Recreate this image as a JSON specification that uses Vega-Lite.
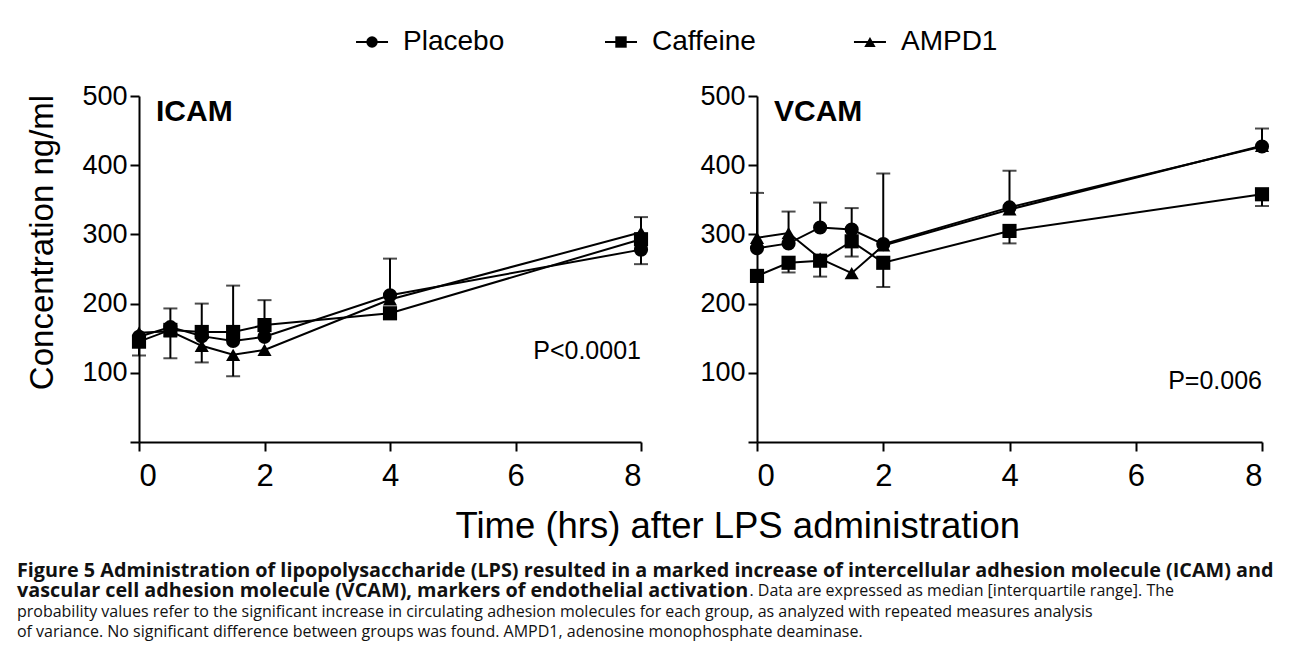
{
  "$schema": "https://vega.github.io/schema/vega-lite/v6.json",
  "padding": {"left": 16, "top": 28, "right": 5, "bottom": 5},
  "background": "white",
  "datasets": {
    "groups": [
      {"group": "Placebo"},
      {"group": "Caffeine"},
      {"group": "AMPD1"}
    ],
    "points": [
      {"panel": "ICAM", "group": "Placebo", "time": 0, "value": 152},
      {"panel": "ICAM", "group": "Placebo", "time": 0.5, "value": 166},
      {"panel": "ICAM", "group": "Placebo", "time": 1, "value": 153},
      {"panel": "ICAM", "group": "Placebo", "time": 1.5, "value": 146},
      {"panel": "ICAM", "group": "Placebo", "time": 2, "value": 152},
      {"panel": "ICAM", "group": "Placebo", "time": 4, "value": 212},
      {"panel": "ICAM", "group": "Placebo", "time": 8, "value": 278},
      {"panel": "ICAM", "group": "Caffeine", "time": 0, "value": 145},
      {"panel": "ICAM", "group": "Caffeine", "time": 0.5, "value": 162},
      {"panel": "ICAM", "group": "Caffeine", "time": 1, "value": 159},
      {"panel": "ICAM", "group": "Caffeine", "time": 1.5, "value": 159},
      {"panel": "ICAM", "group": "Caffeine", "time": 2, "value": 169},
      {"panel": "ICAM", "group": "Caffeine", "time": 4, "value": 186},
      {"panel": "ICAM", "group": "Caffeine", "time": 8, "value": 293},
      {"panel": "ICAM", "group": "AMPD1", "time": 0, "value": 158},
      {"panel": "ICAM", "group": "AMPD1", "time": 0.5, "value": 160},
      {"panel": "ICAM", "group": "AMPD1", "time": 1, "value": 139},
      {"panel": "ICAM", "group": "AMPD1", "time": 1.5, "value": 126},
      {"panel": "ICAM", "group": "AMPD1", "time": 2, "value": 133},
      {"panel": "ICAM", "group": "AMPD1", "time": 4, "value": 206},
      {"panel": "ICAM", "group": "AMPD1", "time": 8, "value": 303},
      {"panel": "VCAM", "group": "Placebo", "time": 0, "value": 280},
      {"panel": "VCAM", "group": "Placebo", "time": 0.5, "value": 287},
      {"panel": "VCAM", "group": "Placebo", "time": 1, "value": 310},
      {"panel": "VCAM", "group": "Placebo", "time": 1.5, "value": 307},
      {"panel": "VCAM", "group": "Placebo", "time": 2, "value": 286},
      {"panel": "VCAM", "group": "Placebo", "time": 4, "value": 339},
      {"panel": "VCAM", "group": "Placebo", "time": 8, "value": 427},
      {"panel": "VCAM", "group": "Caffeine", "time": 0, "value": 240},
      {"panel": "VCAM", "group": "Caffeine", "time": 0.5, "value": 259},
      {"panel": "VCAM", "group": "Caffeine", "time": 1, "value": 262},
      {"panel": "VCAM", "group": "Caffeine", "time": 1.5, "value": 290},
      {"panel": "VCAM", "group": "Caffeine", "time": 2, "value": 259},
      {"panel": "VCAM", "group": "Caffeine", "time": 4, "value": 305},
      {"panel": "VCAM", "group": "Caffeine", "time": 8, "value": 358},
      {"panel": "VCAM", "group": "AMPD1", "time": 0, "value": 295},
      {"panel": "VCAM", "group": "AMPD1", "time": 0.5, "value": 302},
      {"panel": "VCAM", "group": "AMPD1", "time": 1, "value": 265},
      {"panel": "VCAM", "group": "AMPD1", "time": 1.5, "value": 244},
      {"panel": "VCAM", "group": "AMPD1", "time": 2, "value": 284},
      {"panel": "VCAM", "group": "AMPD1", "time": 4, "value": 336},
      {"panel": "VCAM", "group": "AMPD1", "time": 8, "value": 428}
    ],
    "whiskers": [
      {"panel": "ICAM", "group": "Caffeine", "time": 0, "value": 145, "end": 125},
      {"panel": "ICAM", "group": "Placebo", "time": 0.5, "value": 166, "end": 193},
      {"panel": "ICAM", "group": "Caffeine", "time": 0.5, "value": 162, "end": 121},
      {"panel": "ICAM", "group": "Caffeine", "time": 1, "value": 159, "end": 200},
      {"panel": "ICAM", "group": "AMPD1", "time": 1, "value": 139, "end": 115},
      {"panel": "ICAM", "group": "Caffeine", "time": 1.5, "value": 159, "end": 226},
      {"panel": "ICAM", "group": "AMPD1", "time": 1.5, "value": 126, "end": 95},
      {"panel": "ICAM", "group": "Caffeine", "time": 2, "value": 169, "end": 205},
      {"panel": "ICAM", "group": "Placebo", "time": 4, "value": 212, "end": 265},
      {"panel": "ICAM", "group": "AMPD1", "time": 8, "value": 303, "end": 325},
      {"panel": "ICAM", "group": "Placebo", "time": 8, "value": 278, "end": 257},
      {"panel": "VCAM", "group": "AMPD1", "time": 0, "value": 295, "end": 360},
      {"panel": "VCAM", "group": "AMPD1", "time": 0.5, "value": 302, "end": 333},
      {"panel": "VCAM", "group": "Caffeine", "time": 0.5, "value": 259, "end": 245},
      {"panel": "VCAM", "group": "Placebo", "time": 1, "value": 310, "end": 346},
      {"panel": "VCAM", "group": "Caffeine", "time": 1, "value": 262, "end": 239},
      {"panel": "VCAM", "group": "Placebo", "time": 1.5, "value": 307, "end": 338},
      {"panel": "VCAM", "group": "Caffeine", "time": 1.5, "value": 290, "end": 268},
      {"panel": "VCAM", "group": "Placebo", "time": 2, "value": 286, "end": 388},
      {"panel": "VCAM", "group": "Caffeine", "time": 2, "value": 259, "end": 224},
      {"panel": "VCAM", "group": "Placebo", "time": 4, "value": 339, "end": 392},
      {"panel": "VCAM", "group": "Caffeine", "time": 4, "value": 305, "end": 287},
      {"panel": "VCAM", "group": "Placebo", "time": 8, "value": 427, "end": 453},
      {"panel": "VCAM", "group": "Caffeine", "time": 8, "value": 358, "end": 341}
    ]
  },
  "title": {
    "text": [
      "Figure 5 Administration of lipopolysaccharide (LPS) resulted in a marked increase of intercellular adhesion molecule (ICAM) and",
      "vascular cell adhesion molecule (VCAM), markers of endothelial activation"
    ],
    "subtitle": [
      "\u200b\u2003\u2003\u2003\u2003\u2003\u2003\u2003\u2003\u2003\u2003\u2003\u2003\u2003\u2003\u2003\u2003\u2003\u2003\u2003\u2003\u2003\u2003\u2003\u2003\u2003\u2003\u2003\u2003\u2003\u2003\u2003\u2003\u2003\u2003\u2003\u2003\u2003\u2003\u2003\u2003\u2003\u2003\u2003\u2003\u2003\u00a0\u00a0\u00a0. Data are expressed as median [interquartile range]. The",
      "probability values refer to the significant increase in circulating adhesion molecules for each group, as analyzed with repeated measures analysis",
      "of variance. No significant difference between groups was found. AMPD1, adenosine monophosphate deaminase."
    ],
    "orient": "bottom",
    "anchor": "start",
    "offset": 16,
    "dx": -10,
    "font": "Open Sans",
    "fontSize": 19.8,
    "fontWeight": "bold",
    "lineHeight": 20.7,
    "color": "#111111",
    "subtitleFont": "Open Sans",
    "subtitleFontSize": 16,
    "subtitleFontWeight": "normal",
    "subtitleLineHeight": 20.7,
    "subtitlePadding": -18,
    "subtitleColor": "#111111"
  },
  "spacing": 40,
  "bounds": "flush",
  "vconcat": [
    {
      "width": 964,
      "height": 28,
      "data": {"name": "groups"},
      "encoding": {
        "x": {"field": "group", "type": "nominal", "axis": null,
          "scale": {"type": "point", "domain": ["Placebo", "Caffeine", "AMPD1"], "padding": 0.936}}
      },
      "layer": [
        {
          "mark": {"type": "point", "shape": "M-1,0H1", "size": 1024, "filled": false, "color": "black", "strokeWidth": 2, "opacity": 1}
        },
        {
          "mark": {"type": "point", "filled": true, "color": "black", "opacity": 1, "size": 130},
          "encoding": {
            "shape": {"field": "group", "type": "nominal", "legend": null,
              "scale": {"domain": ["Placebo", "Caffeine", "AMPD1"], "range": ["circle", "square", "triangle-up"]}}
          }
        },
        {
          "mark": {"type": "text", "align": "left", "baseline": "middle", "dx": 31, "fontSize": 28, "color": "black"},
          "encoding": {"text": {"field": "group"}}
        }
      ]
    },
    {
      "spacing": 116,
      "bounds": "flush",
      "hconcat": [
        {
          "width": 502,
          "height": 346,
          "title": {"text": "ICAM", "anchor": "start", "frame": "group", "offset": -45, "dx": 17, "fontSize": 30, "fontWeight": "bold"},
          "layer": [
            {
              "data": {"name": "points"},
              "transform": [{"filter": "datum.panel === 'ICAM'"}],
              "mark": {"type": "line", "color": "black", "strokeWidth": 2},
              "encoding": {
                "x": {"field": "time", "type": "quantitative", "scale": {"domain": [0, 8]},
                  "axis": {"values": [0, 2, 4, 6, 8], "format": "d", "title": "Time (hrs) after LPS administration", "titleX": 316, "titleY": 66, "titleAlign": "left", "titleFontSize": 36.5}},
                "y": {"field": "value", "type": "quantitative", "scale": {"domain": [0, 500]},
                  "axis": {"values": [0, 100, 200, 300, 400, 500], "labelExpr": "datum.value === 0 ? '' : datum.label", "title": "Concentration ng/ml", "titleFontSize": 33, "titlePadding": 22, "titleY": 146}},
                "detail": {"field": "group"}
              }
            },
            {
              "data": {"name": "whiskers"},
              "transform": [{"filter": "datum.panel === 'ICAM'"}],
              "mark": {"type": "rule", "color": "black", "strokeWidth": 2},
              "encoding": {
                "x": {"field": "time", "type": "quantitative"},
                "y": {"field": "value", "type": "quantitative"},
                "y2": {"field": "end"}
              }
            },
            {
              "data": {"name": "whiskers"},
              "transform": [{"filter": "datum.panel === 'ICAM'"}],
              "mark": {"type": "tick", "orient": "horizontal", "color": "black", "size": 14, "thickness": 2},
              "encoding": {
                "x": {"field": "time", "type": "quantitative"},
                "y": {"field": "end", "type": "quantitative"}
              }
            },
            {
              "data": {"name": "points"},
              "transform": [{"filter": "datum.panel === 'ICAM'"}],
              "mark": {"type": "point", "filled": true, "color": "black", "opacity": 1, "size": 200},
              "encoding": {
                "x": {"field": "time", "type": "quantitative"},
                "y": {"field": "value", "type": "quantitative"},
                "shape": {"field": "group", "type": "nominal", "legend": null,
                  "scale": {"domain": ["Placebo", "Caffeine", "AMPD1"], "range": ["circle", "square", "triangle-up"]}}
              }
            },
            {
              "data": {"values": [{"label": "P<0.0001"}]},
              "mark": {"type": "text", "align": "right", "baseline": "middle", "fontSize": 25, "color": "black"},
              "encoding": {
                "x": {"datum": 8, "type": "quantitative"},
                "y": {"datum": 131, "type": "quantitative"},
                "text": {"field": "label"}
              }
            }
          ]
        },
        {
          "width": 505,
          "height": 346,
          "title": {"text": "VCAM", "anchor": "start", "frame": "group", "offset": -45, "dx": 17, "fontSize": 30, "fontWeight": "bold"},
          "layer": [
            {
              "data": {"name": "points"},
              "transform": [{"filter": "datum.panel === 'VCAM'"}],
              "mark": {"type": "line", "color": "black", "strokeWidth": 2},
              "encoding": {
                "x": {"field": "time", "type": "quantitative", "scale": {"domain": [0, 8]},
                  "axis": {"values": [0, 2, 4, 6, 8], "format": "d", "title": null}},
                "y": {"field": "value", "type": "quantitative", "scale": {"domain": [0, 500]},
                  "axis": {"values": [0, 100, 200, 300, 400, 500], "labelExpr": "datum.value === 0 ? '' : datum.label", "title": null}},
                "detail": {"field": "group"}
              }
            },
            {
              "data": {"name": "whiskers"},
              "transform": [{"filter": "datum.panel === 'VCAM'"}],
              "mark": {"type": "rule", "color": "black", "strokeWidth": 2},
              "encoding": {
                "x": {"field": "time", "type": "quantitative"},
                "y": {"field": "value", "type": "quantitative"},
                "y2": {"field": "end"}
              }
            },
            {
              "data": {"name": "whiskers"},
              "transform": [{"filter": "datum.panel === 'VCAM'"}],
              "mark": {"type": "tick", "orient": "horizontal", "color": "black", "size": 14, "thickness": 2},
              "encoding": {
                "x": {"field": "time", "type": "quantitative"},
                "y": {"field": "end", "type": "quantitative"}
              }
            },
            {
              "data": {"name": "points"},
              "transform": [{"filter": "datum.panel === 'VCAM'"}],
              "mark": {"type": "point", "filled": true, "color": "black", "opacity": 1, "size": 200},
              "encoding": {
                "x": {"field": "time", "type": "quantitative"},
                "y": {"field": "value", "type": "quantitative"},
                "shape": {"field": "group", "type": "nominal", "legend": null,
                  "scale": {"domain": ["Placebo", "Caffeine", "AMPD1"], "range": ["circle", "square", "triangle-up"]}}
              }
            },
            {
              "data": {"values": [{"label": "P=0.006"}]},
              "mark": {"type": "text", "align": "right", "baseline": "middle", "fontSize": 25, "color": "black"},
              "encoding": {
                "x": {"datum": 8, "type": "quantitative"},
                "y": {"datum": 88, "type": "quantitative"},
                "text": {"field": "label"}
              }
            }
          ]
        }
      ]
    }
  ],
  "config": {
    "font": "Liberation Sans",
    "view": {"stroke": null},
    "axis": {
      "grid": false,
      "domainColor": "black",
      "domainWidth": 2,
      "tickColor": "black",
      "tickWidth": 2,
      "tickSize": 9,
      "labelColor": "black",
      "titleColor": "black",
      "titleFontWeight": "normal",
      "labelFont": "Liberation Sans",
      "titleFont": "Liberation Sans"
    },
    "axisX": {"labelFontSize": 31, "labelPadding": 10},
    "axisY": {"labelFontSize": 27, "labelPadding": 3},
    "title": {"font": "Liberation Sans", "color": "black"}
  }
}
